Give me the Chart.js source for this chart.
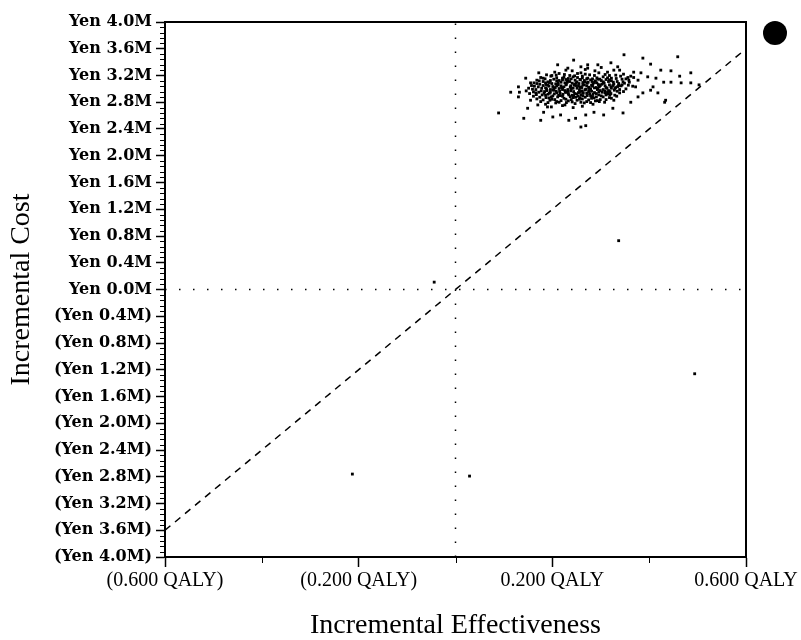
<!DOCTYPE html>
<html>
<head>
<meta charset="utf-8">
<script src="https://cdn.jsdelivr.net/npm/chart.js@4.4.0/dist/chart.umd.min.js"></script>
<style>
  html, body { margin: 0; padding: 0; background: #fff; }
  #wrap { width: 801px; height: 640px; }
</style>
</head>
<body>
<div id="wrap"><canvas id="cePlane" width="801" height="640"></canvas></div>
<script>
// axis ticks (QALY, million yen)
const xTickValues = [-0.6, -0.4, -0.2, 0, 0.2, 0.4, 0.6];
const xTickLabels = ['(0.600 QALY)', '', '(0.200 QALY)', '', '0.200 QALY', '', '0.600 QALY'];
const yTickValues = [-4.0, -3.6, -3.2, -2.8, -2.4, -2.0, -1.6, -1.2, -0.8, -0.4, 0, 0.4, 0.8, 1.2, 1.6, 2.0, 2.4, 2.8, 3.2, 3.6, 4.0];
const yTickLabels = ['(Yen 4.0M)', '(Yen 3.6M)', '(Yen 3.2M)', '(Yen 2.8M)', '(Yen 2.4M)', '(Yen 2.0M)', '(Yen 1.6M)',
    '(Yen 1.2M)', '(Yen 0.8M)', '(Yen 0.4M)', 'Yen 0.0M', 'Yen 0.4M', 'Yen 0.8M', 'Yen 1.2M', 'Yen 1.6M',
    'Yen 2.0M', 'Yen 2.4M', 'Yen 2.8M', 'Yen 3.2M', 'Yen 3.6M', 'Yen 4.0M'];

// willingness-to-pay line and quadrant lines
const wtpLineX = [-0.6, 0.6];
const wtpLineY = [-3.6, 3.6];
const zeroLineX = [-0.6, 0.6];
const zeroLineY = [-4.0, 4.0];

// simulated incremental effectiveness / cost pairs (read off the cloud)
const simPoints = [
    [0.232,3.31],[0.268,3.29],[0.301,3.32],[0.327,3.28],
    [0.205,3.25],[0.241,3.27],[0.259,3.24],[0.288,3.27],[0.314,3.25],[0.339,3.28],
    [0.188,3.21],[0.214,3.23],[0.236,3.20],[0.252,3.23],[0.277,3.21],[0.296,3.24],[0.318,3.20],[0.347,3.22],[0.362,3.19],
    [0.176,3.17],[0.197,3.19],[0.221,3.16],[0.243,3.18],[0.262,3.19],[0.283,3.15],[0.305,3.18],[0.322,3.16],[0.341,3.19],[0.368,3.17],
    [0.168,3.13],[0.185,3.15],[0.209,3.12],[0.228,3.14],[0.247,3.13],[0.271,3.15],[0.289,3.12],[0.311,3.14],[0.334,3.11],[0.352,3.15],[0.377,3.13],
    [0.162,3.09],[0.181,3.11],[0.199,3.08],[0.218,3.10],[0.236,3.11],[0.255,3.08],[0.274,3.10],[0.292,3.09],[0.316,3.11],[0.337,3.08],[0.359,3.10],
    [0.157,3.05],[0.174,3.07],[0.193,3.04],[0.212,3.06],[0.229,3.07],[0.249,3.05],[0.266,3.06],[0.283,3.04],[0.302,3.07],[0.325,3.05],[0.344,3.06],[0.366,3.04],
    [0.151,3.01],[0.171,3.03],[0.188,3.00],[0.206,3.02],[0.224,3.03],[0.243,3.01],[0.261,3.02],[0.279,3.00],[0.297,3.03],[0.313,3.01],[0.331,3.02],[0.352,3.00],
    [0.146,2.97],[0.166,2.99],[0.184,2.96],[0.203,2.98],[0.221,2.99],[0.238,2.97],[0.256,2.98],[0.275,2.96],[0.293,2.99],[0.309,2.97],[0.328,2.98],[0.347,2.96],
    [0.153,2.93],[0.172,2.95],[0.191,2.92],[0.209,2.94],[0.227,2.95],[0.246,2.93],[0.264,2.94],[0.284,2.92],[0.303,2.95],[0.321,2.93],[0.339,2.94],
    [0.161,2.89],[0.179,2.91],[0.198,2.88],[0.216,2.90],[0.234,2.91],[0.253,2.89],[0.272,2.90],[0.291,2.88],[0.311,2.91],[0.333,2.89],
    [0.168,2.85],[0.187,2.87],[0.205,2.84],[0.224,2.86],[0.243,2.87],[0.262,2.85],[0.281,2.86],[0.299,2.84],[0.322,2.86],
    [0.176,2.81],[0.195,2.83],[0.214,2.80],[0.233,2.82],[0.251,2.83],[0.271,2.81],[0.289,2.82],[0.308,2.80],
    [0.186,2.77],[0.207,2.79],[0.226,2.76],[0.247,2.78],[0.266,2.79],[0.284,2.77],
    [0.198,2.73],[0.221,2.75],[0.243,2.72],[0.262,2.74],
    [0.196,3.125],[0.218,3.045],[0.241,3.085],[0.258,3.135],[0.276,3.025],[0.295,3.065],[0.232,2.965],[0.251,2.925],
    [0.268,2.985],[0.287,2.945],[0.213,2.905],[0.305,3.105],[0.224,3.175],[0.262,3.165],[0.248,2.875],[0.279,2.895],
    [0.316,2.975],[0.201,2.985],[0.187,3.065],[0.335,3.035],[0.254,3.045],[0.237,3.025],[0.272,3.085],[0.228,2.845],
    [0.292,3.165],[0.208,3.205],[0.319,2.915],[0.183,2.935],[0.344,3.145],[0.357,3.055],
    [0.199,3.20],[0.225,3.215],[0.246,3.195],[0.268,3.22],[0.287,3.20],[0.309,3.215],[0.331,3.205],
    [0.181,3.16],[0.209,3.165],[0.233,3.155],[0.252,3.17],[0.273,3.16],[0.294,3.145],[0.314,3.165],[0.332,3.155],[0.356,3.17],
    [0.173,3.12],[0.191,3.105],[0.214,3.125],[0.232,3.12],[0.251,3.105],[0.266,3.125],[0.282,3.11],[0.301,3.125],[0.322,3.12],[0.346,3.105],
    [0.168,3.08],[0.186,3.09],[0.207,3.075],[0.226,3.09],[0.246,3.07],[0.263,3.095],[0.284,3.075],[0.307,3.085],[0.327,3.07],[0.349,3.085],
    [0.163,3.04],[0.181,3.05],[0.201,3.035],[0.219,3.02],[0.238,3.045],[0.259,3.03],[0.271,3.045],[0.291,3.02],[0.309,3.045],[0.321,3.03],[0.342,3.045],
    [0.159,2.995],[0.178,3.01],[0.196,2.99],[0.214,3.005],[0.232,2.99],[0.251,3.01],[0.269,2.995],[0.287,3.015],[0.305,2.99],[0.322,3.01],[0.339,2.99],
    [0.161,2.955],[0.177,2.97],[0.196,2.95],[0.215,2.965],[0.229,2.95],[0.258,2.96],[0.276,2.975],[0.296,2.955],[0.314,2.945],[0.334,2.965],
    [0.167,2.915],[0.186,2.905],[0.204,2.925],[0.222,2.92],[0.241,2.905],[0.259,2.915],[0.277,2.925],[0.296,2.91],[0.315,2.925],[0.329,2.905],
    [0.174,2.875],[0.193,2.865],[0.211,2.88],[0.237,2.885],[0.257,2.87],[0.268,2.875],[0.286,2.865],[0.305,2.88],[0.318,2.87],
    [0.181,2.835],[0.199,2.845],[0.218,2.825],[0.239,2.84],[0.256,2.845],[0.275,2.835],[0.293,2.825],[0.311,2.84],
    [0.191,2.795],[0.209,2.81],[0.229,2.795],[0.241,2.805],[0.259,2.80],[0.279,2.795],[0.297,2.81],
    [0.203,3.145],[0.221,3.135],[0.239,3.15],[0.257,3.14],[0.279,3.135],[0.298,3.145],[0.318,3.135],
    [0.194,3.095],[0.212,3.085],[0.231,3.10],[0.249,3.09],[0.268,3.105],[0.287,3.095],[0.306,3.09],[0.326,3.10],
    [0.191,3.055],[0.209,3.045],[0.228,3.06],[0.245,3.055],[0.263,3.06],[0.281,3.055],[0.299,3.05],[0.318,3.06],[0.337,3.05],
    [0.186,3.015],[0.203,3.005],[0.221,3.015],[0.239,3.005],[0.257,3.02],[0.275,3.01],[0.294,3.005],[0.311,3.02],[0.329,3.005],
    [0.189,2.975],[0.208,2.965],[0.226,2.975],[0.244,2.96],[0.262,2.97],[0.281,2.965],[0.299,2.975],[0.319,2.96],
    [0.194,2.935],[0.216,2.935],[0.233,2.93],[0.254,2.945],[0.271,2.935],[0.291,2.93],[0.309,2.94],
    [0.201,2.895],[0.221,2.89],[0.244,2.895],[0.263,2.90],[0.283,2.885],[0.301,2.895],
    [0.089,2.64],[0.114,2.95],[0.130,3.03],[0.132,2.95],[0.130,2.88],[0.141,2.56],[0.149,2.71],[0.155,2.83],
    [0.166,2.94],[0.172,3.24],[0.211,3.36],[0.228,3.28],[0.155,3.09],[0.145,3.16],[0.176,2.53],[0.201,2.58],
    [0.217,2.61],[0.234,2.53],[0.248,2.56],[0.259,2.43],[0.182,2.65],[0.170,2.76],[0.190,2.73],[0.244,3.43],
    [0.259,3.33],[0.273,3.31],[0.269,2.45],[0.348,3.51],[0.387,3.46],[0.459,3.48],[0.486,3.24],[0.486,3.09],
    [0.466,3.09],[0.432,2.80],[0.387,2.94],[0.346,2.64],[0.306,2.61],[0.403,3.37],[0.424,3.28],[0.445,3.27],
    [0.463,3.19],[0.503,3.06],[0.445,3.10],[0.430,3.10],[0.414,3.16],[0.408,3.03],[0.397,3.18],[0.383,3.24],
    [0.368,3.25],[0.358,3.13],[0.372,3.03],[0.335,3.33],[0.321,3.39],[0.294,3.36],[0.273,3.36],[0.434,2.83],
    [0.418,2.94],[0.377,2.88],[0.362,2.80],[0.325,2.71],[0.286,2.65],[0.269,2.61],[0.403,2.98],[0.327,2.83],
    [0.337,0.73],[-0.044,0.11],[-0.213,-2.76],[0.029,-2.79],[0.494,-1.26]
];

// minor ticks, frame and the round marker at the top right
const axisMarks = {
    id: 'axisMarks',
    afterDraw(chart) {
        const { ctx, chartArea: a, scales: { x, y } } = chart;
        ctx.save();
        ctx.strokeStyle = '#000';
        ctx.lineWidth = 1;
        ctx.beginPath();
        for (let i = 0; i <= 100; i++) {
            if (i % 5 === 0) continue;
            const py = Math.round(y.getPixelForValue(-4 + i * 0.08)) + 0.5;
            ctx.moveTo(a.left - 5, py);
            ctx.lineTo(a.left, py);
        }
        xTickValues.forEach((v, i) => {
            if (xTickLabels[i]) return;
            const px = Math.round(x.getPixelForValue(v)) + 0.5;
            ctx.moveTo(px, a.bottom);
            ctx.lineTo(px, a.bottom + 6);
        });
        ctx.stroke();
        ctx.lineWidth = 2;
        ctx.strokeRect(a.left, a.top, a.right - a.left, a.bottom - a.top);
        ctx.beginPath();
        ctx.arc(a.right + 29, a.top + 11, 12, 0, Math.PI * 2);
        ctx.fillStyle = '#000';
        ctx.fill();
        ctx.restore();
    }
};

const serif = "'Liberation Serif', 'DejaVu Serif', serif";

new Chart(document.getElementById('cePlane'), {
    type: 'scatter',
    data: {
        datasets: [
            {
                label: 'Simulations',
                data: simPoints.map(p => ({ x: p[0], y: p[1] })),
                backgroundColor: '#000',
                borderWidth: 0,
                pointStyle: 'rect',
                pointRadius: 2,
                order: 1
            },
            {
                label: 'WTP',
                type: 'line',
                data: wtpLineX.map((v, i) => ({ x: v, y: wtpLineY[i] })),
                borderColor: '#000',
                borderWidth: 1.5,
                borderDash: [7, 6],
                pointRadius: 0,
                order: 2
            },
            {
                label: 'zeroCost',
                type: 'line',
                data: zeroLineX.map(v => ({ x: v, y: 0 })),
                borderColor: '#000',
                borderWidth: 1.5,
                borderDash: [1.5, 12.5],
                pointRadius: 0,
                order: 3
            },
            {
                label: 'zeroEffect',
                type: 'line',
                data: zeroLineY.map(v => ({ x: 0, y: v })),
                borderColor: '#000',
                borderWidth: 1.5,
                borderDash: [1.5, 12.5],
                pointRadius: 0,
                order: 3
            }
        ]
    },
    options: {
        responsive: false,
        animation: false,
        layout: { padding: { top: 22, right: 55, left: 0, bottom: 0 } },
        plugins: { legend: { display: false }, tooltip: { enabled: false } },
        scales: {
            x: {
                type: 'linear',
                min: -0.6,
                max: 0.6,
                afterBuildTicks: s => { s.ticks = xTickValues.map(v => ({ value: v })); },
                afterFit: s => { s.height = 83; },
                ticks: {
                    autoSkip: false,
                    maxRotation: 0,
                    color: '#000',
                    padding: 2,
                    font: { family: serif, size: 20 },
                    callback: (v, i) => xTickLabels[i]
                },
                grid: {
                    drawOnChartArea: false,
                    tickLength: 10,
                    tickWidth: 1.5,
                    tickColor: c => (xTickLabels[c.index] ? '#000' : 'rgba(0,0,0,0)')
                },
                border: { display: true, color: '#000', width: 2 },
                title: {
                    display: true,
                    text: 'Incremental Effectiveness',
                    color: '#000',
                    font: { family: serif, size: 28, lineHeight: 1 },
                    padding: 0
                }
            },
            y: {
                type: 'linear',
                min: -4,
                max: 4,
                afterBuildTicks: s => { s.ticks = yTickValues.map(v => ({ value: v })); },
                afterFit: s => { s.width = 165; },
                ticks: {
                    autoSkip: false,
                    color: '#000',
                    padding: 4,
                    font: { family: "'DejaVu Serif', serif", size: 16, weight: 'bold' },
                    callback: (v, i) => yTickLabels[i]
                },
                grid: {
                    drawOnChartArea: false,
                    tickLength: 9,
                    tickWidth: 1.5,
                    tickColor: '#000'
                },
                border: { display: true, color: '#000', width: 2 },
                title: {
                    display: true,
                    text: 'Incremental Cost',
                    color: '#000',
                    font: { family: serif, size: 28, lineHeight: 1.2 },
                    padding: { top: 5, bottom: 0 }
                }
            }
        }
    },
    plugins: [axisMarks]
});
</script>
</body>
</html>
